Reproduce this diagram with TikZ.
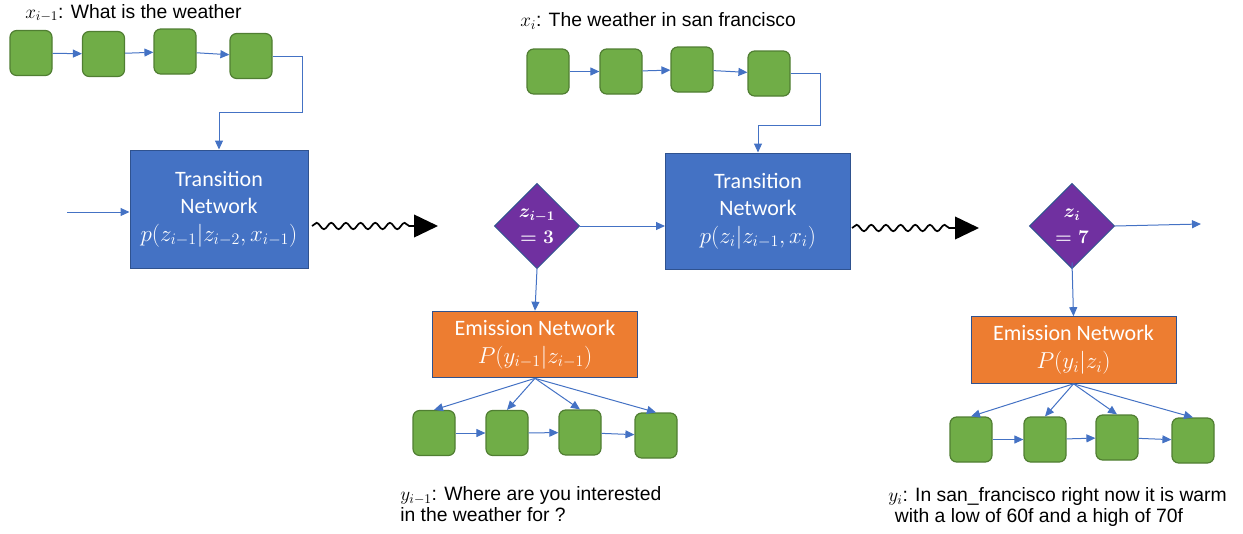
\documentclass[tikz,border=0pt]{standalone}
\usepackage{amsmath, amssymb}
\usepackage{fontspec}
\setmainfont{Carlito}
\newfontfamily\capfont{Liberation Sans}
\usepackage{tikz}
\usetikzlibrary{arrows.meta, shapes.geometric, decorations.pathmorphing}

\definecolor{netblue}{HTML}{4472C4}
\definecolor{edgeblue}{HTML}{2F528F}
\definecolor{netorange}{HTML}{ED7D31}
\definecolor{tokgreen}{HTML}{70AD47}
\definecolor{tokedge}{HTML}{507E32}
\definecolor{statepurple}{HTML}{7030A0}

\tikzset{
  token/.style={draw=tokedge, fill=tokgreen, line width=0.9pt, rounded corners=5pt,
    minimum width=31.5pt, minimum height=33.75pt, inner sep=0pt},
  transnet/.style={draw=edgeblue, fill=netblue, line width=0.75pt, text=white,
    align=center, inner sep=0pt, font=\fontsize{16.5}{20.5}\selectfont},
  emitnet/.style={draw=edgeblue, fill=netorange, line width=0.75pt, text=white,
    align=center, inner sep=0pt, minimum width=153.75pt, minimum height=50pt,
    font=\fontsize{16.5}{21}\selectfont},
  zstate/.style={diamond, aspect=1, draw=edgeblue, fill=statepurple, line width=0.75pt,
    text=white, align=center, inner sep=-6pt, minimum width=64pt, minimum height=64pt,
    font=\fontsize{14.5}{19.5}\selectfont\boldmath},
  flow/.style={draw=netblue, line width=0.75pt, -{Triangle[length=6.75pt,width=6pt]}},
  wavy/.style={draw=black, line width=1.3pt, decorate,
    decoration={snake, amplitude=2.4pt, segment length=11pt, post length=19pt},
    -{Triangle[length=18pt,width=17pt]}},
  caption/.style={anchor=west, inner sep=0pt, align=left,
    font=\capfont\fontsize{14.5}{16}\selectfont}
}

\begin{document}
\begin{tikzpicture}[x=0.75pt,y=0.75pt,yscale=-1,xscale=1]
    \useasboundingbox (0,0) rectangle (1243,533);

    % Text Node
    \node[caption] (capx1) at (25,13) {$x_{i-1}$: What is the weather};
    % Text Node
    \node[caption] (capx2) at (520,21) {$x_{i}$: The weather in san francisco};

    % input tokens, step i-1
    \node[token] (a1) at (31,53) {};
    \node[token] (a2) at (103.5,54) {};
    \node[token] (a3) at (175,51.5) {};
    \node[token] (a4) at (251,56) {};
    % input tokens, step i
    \node[token] (e1) at (548,71.5) {};
    \node[token] (e2) at (621,71.5) {};
    \node[token] (e3) at (692,69.5) {};
    \node[token] (e4) at (769,73.5) {};

    % networks
    \node[transnet, minimum width=133.5pt, minimum height=88.5pt] (tr1) at (219,209)
      {Transition\\Network\\$p(z_{i-1}|z_{i-2},x_{i-1})$};
    \node[transnet, minimum width=138.75pt, minimum height=87pt] (tr2) at (758,211)
      {Transition\\Network\\$p(z_{i}|z_{i-1},x_{i})$};
    \node[zstate] (d1) at (537,226) {$z_{i-1}$\\$=3$};
    \node[zstate] (d2) at (1072,226) {$z_{i}$\\$=7$};
    \node[emitnet] (em1) at (535,344.5) {Emission Network\\$P(y_{i-1}|z_{i-1})$};
    \node[emitnet] (em2) at (1073.5,350) {Emission Network\\$P(y_{i}|z_{i})$};

    % output tokens, step i-1
    \node[token] (b1) at (434,433) {};
    \node[token] (b2) at (507,433) {};
    \node[token] (b3) at (580,432.5) {};
    \node[token] (b4) at (656,435.5) {};
    % output tokens, step i
    \node[token] (f1) at (971,439.5) {};
    \node[token] (f2) at (1045,439.5) {};
    \node[token] (f3) at (1117,437.5) {};
    \node[token] (f4) at (1193,440.5) {};

    % Text Node
    \node[caption, anchor=north west] (capy1) at (400,486)
      {$y_{i-1}$: Where are you interested\\in the weather for ?};
    % Text Node
    \node[caption, anchor=north west] (capy2) at (888,487)
      {$y_{i}$: In san\_francisco right now it is warm\\\hspace*{5pt}with a low of 60f and a high of 70f};

    \coordinate (in1) at (67,212);
    \coordinate (k1) at (302,112);
    \coordinate (k2) at (820,125);
    \coordinate (w1s) at (312,226);
    \coordinate (w1e) at (438,226);
    \coordinate (w2s) at (852,228);
    \coordinate (w2e) at (979,228);
    \coordinate (out2) at (1201,224);

    %Straight Lines
    \draw[flow] (a1) -- (a2);
    \draw[flow] (a2) -- (a3);
    \draw[flow] (a3) -- (a4);
    \draw[flow] (a4.east) -| (k1) -| (tr1.north);
    \draw[flow] (e1) -- (e2);
    \draw[flow] (e2) -- (e3);
    \draw[flow] (e3) -- (e4);
    \draw[flow] (e4.east) -| (k2) -| (tr2.north);
    \draw[flow] (in1) -- (in1 -| tr1.west);
    \draw[flow] (d1.east) -- (d1.east -| tr2.west);
    \draw[flow] (d2.east) -- (out2);
    \draw[flow] (d1.south) -- (em1.north);
    \draw[flow] ([yshift=-5]d2.south) -- (em2.north);
    \foreach \t in {b1,b2,b3,b4} \draw[flow] (em1.south) -- (\t.north);
    \foreach \t in {f1,f2,f3,f4} \draw[flow] (em2.south) -- (\t.north);
    \draw[flow] (b1) -- (b2);
    \draw[flow] (b2) -- (b3);
    \draw[flow] (b3) -- (b4);
    \draw[flow] (f1) -- (f2);
    \draw[flow] (f2) -- (f3);
    \draw[flow] (f3) -- (f4);

    %Wavy Lines
    \draw[wavy] (w1s) -- (w1e);
    \draw[wavy] (w2s) -- (w2e);
\end{tikzpicture}
\end{document}
